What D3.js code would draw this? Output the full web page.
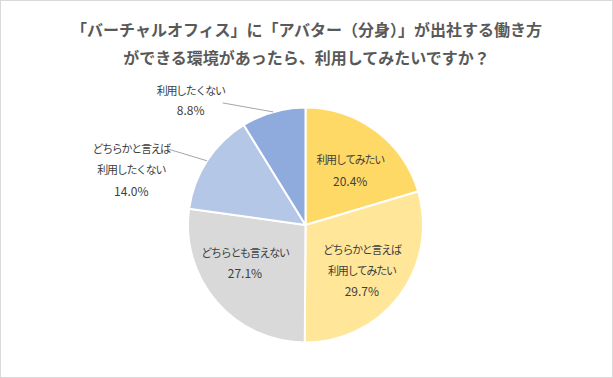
<!DOCTYPE html>
<html>
<head>
<meta charset="utf-8">
<script src="https://cdn.jsdelivr.net/npm/d3@7"></script>
<style>
  html, body { margin: 0; padding: 0; background: #fff; }
  svg { display: block; }
  text { font-family: "Noto Sans CJK JP", "Noto Sans", sans-serif; }
</style>
</head>
<body>
<svg id="chart" width="613" height="378"></svg>
<script>
// ---- data ----
const titleLines = [
  "「バーチャルオフィス」に「アバター（分身）」が出社する働き方",
  "ができる環境があったら、利用してみたいですか？"
];
const categories = [
  "利用してみたい",
  "どちらかと言えば\n利用してみたい",
  "どちらとも言えない",
  "どちらかと言えば\n利用したくない",
  "利用したくない"
];
const values = [20.4, 29.7, 27.1, 14.0, 8.8];
const colors = ["#FFD966", "#FFE699", "#D9D9D9", "#B4C7E7", "#8FAADC"];

// ---- layout ----
const W = 613, H = 378;
const cx = 305.5, cy = 225, R = 117.5;
// label anchor in polar form (degrees clockwise from top, radius) for each slice
const labelPolar = [
  {a: 39, r: 71, lh: 21, outside: false},
  {a: 128.5, r: 72, lh: 21, outside: false},
  {a: 238.5, r: 71, lh: 21, outside: false},
  {a: 287.8, r: 183, lh: 21, outside: true, leadDy: 1},
  {a: 317.5, r: 170, lh: 19.5, outside: true, leadDy: 13}
];

const svg = d3.select("#chart");
svg.append("rect").attr("x", 0.5).attr("y", 0.5).attr("width", W - 1).attr("height", H - 1)
  .attr("fill", "#fff").attr("stroke", "#D9D9D9");

// title
svg.append("g").selectAll("text").data(titleLines).join("text")
  .attr("x", W / 2).attr("y", (d, i) => 29 + i * 28)
  .attr("text-anchor", "middle").attr("dominant-baseline", "central")
  .attr("font-size", 16).attr("font-weight", "bold").attr("fill", "#595959")
  .text(d => d);

const pie = d3.pie().sort(null).value(d => d);
const arcs = pie(values);
const arc = d3.arc().innerRadius(0).outerRadius(R);

const g = svg.append("g").attr("transform", `translate(${cx},${cy})`);
g.selectAll("path").data(arcs).join("path")
  .attr("d", arc)
  .attr("fill", (d, i) => colors[i])
  .attr("stroke", "#fff").attr("stroke-width", 2).attr("stroke-linejoin", "round");

const toXY = (aDeg, r) => {
  const a = aDeg * Math.PI / 180;
  return [r * Math.sin(a), -r * Math.cos(a)];
};

arcs.forEach((d, i) => {
  const lp = labelPolar[i];
  const lineH = lp.lh;
  const [lx, ly] = toXY(lp.a, lp.r);
  const lines = categories[i].split("\n").concat([values[i].toFixed(1) + "%"]);
  const n = lines.length;
  const t = g.append("g");
  lines.forEach((ln, k) => {
    const isPct = k === n - 1;
    t.append("text")
      .attr("x", lx).attr("y", ly + (k - (n - 1) / 2) * lineH)
      .attr("text-anchor", "middle").attr("dominant-baseline", "central")
      .attr("font-size", isPct ? 12 : 11)
      .attr("letter-spacing", isPct ? 0 : -1.3)
      .attr("fill", "#404040")
      .text(ln);
  });
  if (lp.outside) {
    const mid = (d.startAngle + d.endAngle) / 2 * 180 / Math.PI;
    const [ex, ey] = toXY(mid, R);
    // leader starts at the right end of the label's first line
    const firstW = categories[i].split("\n")[0].length * (11 - 1.3);
    const sx = lx + firstW / 2 - 2;
    const sy = ly - (n - 1) / 2 * lineH + lp.leadDy;
    g.append("polyline")
      .attr("points", `${sx},${sy} ${ex},${ey}`)
      .attr("fill", "none").attr("stroke", "#A6A6A6").attr("stroke-width", 1);
  }
});
</script>
</body>
</html>
